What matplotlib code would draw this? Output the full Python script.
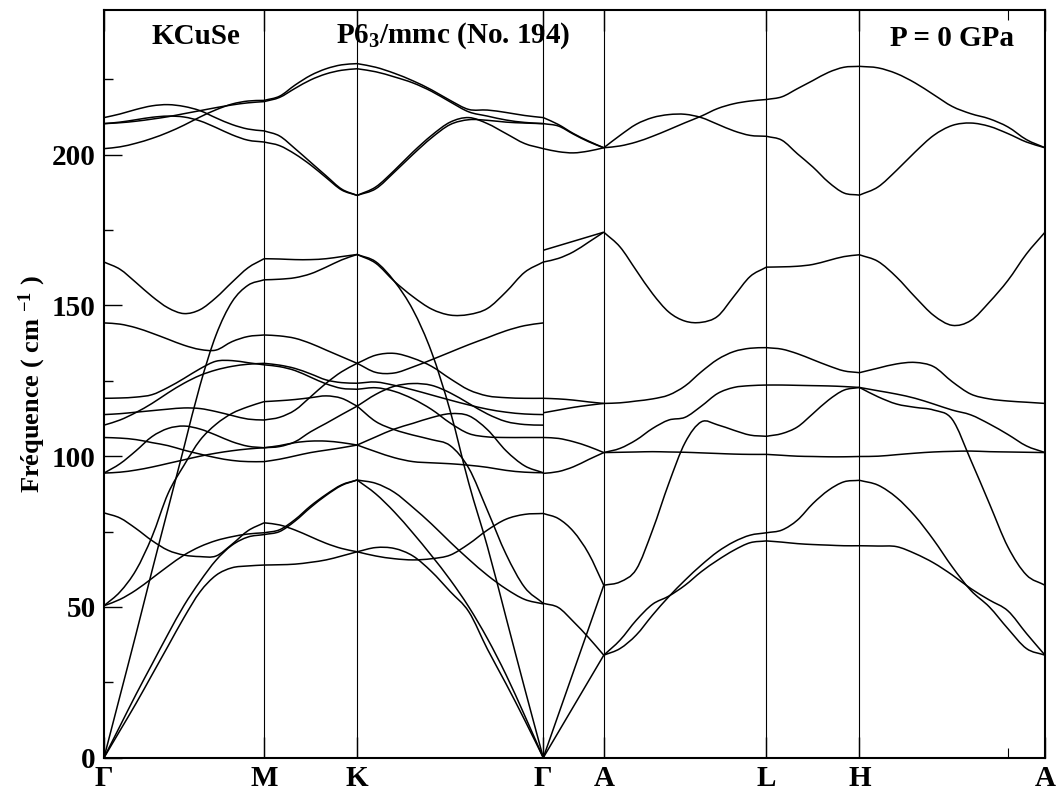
import numpy as np
import matplotlib
matplotlib.use("Agg")
import matplotlib.pyplot as plt
from matplotlib.path import Path
from matplotlib.patches import PathPatch

plt.rcParams.update({
    'font.family': 'serif',
    'font.serif': ['Liberation Serif', 'DejaVu Serif'],
    'font.weight': 'bold',
    'axes.labelweight': 'bold',
    'mathtext.fontset': 'custom',
    'mathtext.rm': 'Liberation Serif:bold',
    'mathtext.it': 'Liberation Serif:italic:bold',
    'mathtext.bf': 'Liberation Serif:bold',
    'mathtext.default': 'regular',
})

# high-symmetry path (fractional path length)
k_labels = ['Γ', 'M', 'K', 'Γ', 'A', 'L', 'H', 'A']
k_nodes = [0.0, 0.1701, 0.2690, 0.4668, 0.5311, 0.7039, 0.8028, 1.0]
k_minor = [0.961]

# phonon frequencies (cm-1), each band sampled at evenly spaced points along a segment
G_M = [
    [212.3, 213.5, 215.0, 216.2, 216.6, 216.0, 214.6, 212.2, 210.0, 208.5, 207.9],
    [210.3, 210.8, 211.6, 212.4, 212.8, 212.5, 211.2, 209.0, 206.6, 204.8, 204.2],
    [210.3, 210.6, 211.1, 211.8, 212.6, 213.6, 214.6, 215.6, 216.5, 217.2, 217.6],
    [202.0, 202.6, 203.8, 205.4, 207.4, 209.8, 212.5, 214.9, 216.8, 217.8, 218.0],
    [164.4, 162.0, 157.6, 153.0, 149.2, 147.3, 148.6, 152.6, 157.7, 162.5, 165.5],
    [0.0, 20.5, 41.0, 62.0, 82.5, 103.0, 123.5, 140.2, 151.2, 156.7, 158.5],
    [144.2, 143.8, 142.6, 140.8, 138.8, 136.8, 135.4, 135.2, 138.0, 139.7, 140.2],
    [119.2, 119.3, 119.6, 120.4, 122.8, 125.8, 129.0, 131.5, 131.7, 131.0, 130.3],
    [110.3, 112.0, 114.5, 117.5, 121.0, 124.2, 126.8, 128.6, 129.8, 130.5, 130.8],
    [113.8, 114.1, 114.6, 115.1, 115.6, 116.0, 115.8, 114.8, 113.5, 112.3, 112.0],
    [106.2, 106.0, 105.5, 104.5, 103.5, 102.0, 100.7, 99.5, 98.6, 98.2, 98.2],
    [94.4, 97.5, 101.8, 106.5, 109.2, 110.0, 109.0, 107.0, 104.8, 103.3, 102.8],
    [94.4, 94.7, 95.4, 96.4, 97.6, 98.8, 100.0, 101.0, 101.8, 102.4, 102.8],
    [81.2, 79.5, 76.0, 72.0, 68.8, 67.2, 66.7, 66.9, 70.8, 75.3, 77.9],
    [50.4, 52.5, 55.6, 59.5, 63.5, 67.2, 70.0, 72.0, 73.3, 74.2, 74.6],
    [50.4, 55.0, 62.2, 73.3, 87.6, 97.0, 105.3, 110.6, 114.2, 116.4, 118.1],
    [0.0, 9.0, 18.0, 27.5, 37.0, 46.5, 55.0, 60.5, 63.0, 63.6, 63.9],
    [0.0, 10.5, 21.0, 31.0, 41.0, 50.5, 58.5, 65.5, 70.5, 73.2, 74.0],
]

M_K = [
    [218.0, 219.4, 223.1, 226.3, 228.5, 229.8, 230.2],
    [217.6, 219.0, 222.0, 224.8, 226.8, 228.0, 228.5],
    [207.9, 206.2, 202.0, 197.5, 193.0, 188.6, 186.5],
    [204.2, 203.0, 200.2, 196.6, 192.4, 188.3, 186.5],
    [165.5, 165.4, 165.2, 165.2, 165.5, 166.2, 166.9],
    [158.5, 158.7, 159.2, 160.5, 162.7, 165.1, 166.9],
    [140.2, 139.9, 139.1, 137.4, 135.2, 133.0, 130.8],
    [130.8, 130.2, 129.1, 127.3, 125.3, 124.4, 124.2],
    [130.3, 129.7, 128.4, 126.2, 124.0, 122.5, 122.2],
    [118.1, 118.4, 118.8, 119.4, 120.0, 119.2, 116.6],
    [112.0, 112.9, 115.3, 119.7, 124.2, 128.0, 130.8],
    [102.8, 103.2, 104.8, 108.1, 110.9, 113.8, 116.6],
    [102.8, 103.5, 104.5, 105.0, 105.0, 104.5, 103.7],
    [98.2, 99.0, 100.1, 101.2, 102.0, 102.8, 103.7],
    [77.9, 77.2, 75.5, 73.3, 71.1, 69.4, 68.3],
    [74.6, 75.6, 79.0, 83.5, 87.3, 90.5, 92.1],
    [74.0, 75.0, 78.5, 83.0, 87.0, 90.3, 92.1],
    [63.9, 64.0, 64.2, 64.8, 65.6, 66.9, 68.3],
]

K_G = [
    [230.2, 229.0, 227.0, 224.5, 221.5, 218.0, 215.0, 214.8, 214.0, 213.0, 212.3],
    [228.5, 227.5, 225.8, 223.8, 221.0, 217.5, 214.2, 212.8, 211.5, 210.7, 210.3],
    [186.5, 189.3, 194.8, 200.9, 206.4, 210.8, 212.3, 210.3, 207.0, 203.7, 202.0],
    [186.5, 188.7, 194.2, 200.1, 205.6, 210.0, 211.6, 211.4, 210.8, 210.5, 210.3],
    [166.9, 164.0, 158.0, 152.9, 148.8, 146.8, 147.0, 149.0, 154.5, 161.0, 164.4],
    [166.9, 164.5, 158.0, 148.5, 134.5, 115.0, 91.0, 70.0, 46.5, 23.0, 0.0],
    [130.8, 127.8, 127.6, 129.6, 132.0, 134.5, 137.0, 139.3, 141.6, 143.3, 144.2],
    [130.8, 133.5, 134.1, 132.5, 129.8, 125.7, 122.0, 120.0, 119.4, 119.2, 119.2],
    [124.2, 124.6, 123.5, 122.0, 120.3, 118.6, 117.0, 115.6, 114.6, 114.0, 113.8],
    [122.2, 122.7, 121.5, 119.0, 115.5, 111.0, 107.5, 106.4, 106.2, 106.2, 106.2],
    [116.6, 120.5, 123.2, 124.1, 123.5, 121.0, 117.5, 114.0, 111.5, 110.5, 110.3],
    [116.6, 111.5, 108.8, 107.0, 105.5, 103.5, 96.0, 82.0, 67.5, 56.5, 51.2],
    [103.7, 106.4, 109.0, 110.9, 112.8, 114.1, 113.4, 108.8, 101.8, 96.8, 94.5],
    [103.7, 101.5, 99.5, 98.2, 97.8, 97.5, 97.0, 96.3, 95.3, 94.7, 94.5],
    [92.1, 91.0, 88.0, 83.0, 77.5, 71.5, 65.8, 60.5, 56.0, 52.5, 51.0],
    [92.1, 87.5, 81.5, 74.5, 67.0, 59.0, 50.0, 39.5, 27.5, 14.0, 0.0],
    [68.3, 69.7, 69.4, 66.9, 61.7, 55.1, 48.4, 36.0, 24.5, 12.5, 0.0],
    [68.3, 66.9, 66.0, 65.6, 66.0, 67.2, 70.9, 75.5, 79.1, 80.7, 81.0],
]

G_A = [
    [212.3, 210.0, 207.0, 204.5, 202.3],
    [210.3, 209.5, 206.8, 204.3, 202.3],
    [202.0, 201.0, 200.6, 201.2, 202.3],
    [168.3, 169.8, 171.3, 172.8, 174.3],
    [164.4, 165.6, 167.8, 171.0, 174.3],
    [119.2, 119.0, 118.6, 118.0, 117.5],
    [114.4, 115.3, 116.2, 116.9, 117.5],
    [106.2, 105.9, 104.8, 103.2, 101.2],
    [94.3, 94.9, 96.5, 98.9, 101.2],
    [81.0, 79.3, 75.0, 67.7, 57.2],
    [51.2, 49.8, 45.1, 39.8, 34.0],
    [0.0, 14.3, 28.6, 42.9, 57.2],
    [0.0, 8.5, 17.0, 25.5, 34.0],
]

A_L = [
    [202.3, 206.4, 210.1, 212.3, 213.3, 213.4, 212.3, 210.1, 207.9, 206.4, 206.1],
    [202.3, 202.9, 204.2, 206.1, 208.3, 210.6, 212.8, 215.3, 216.9, 217.8, 218.3],
    [174.3, 169.4, 161.6, 153.9, 147.8, 144.8, 144.4, 146.4, 153.0, 159.6, 162.7],
    [117.5, 117.7, 118.3, 119.0, 120.3, 123.3, 128.0, 132.1, 134.7, 135.8, 136.0],
    [101.2, 102.6, 105.4, 109.2, 112.0, 112.9, 116.6, 120.8, 122.8, 123.4, 123.6],
    [101.2, 101.3, 101.4, 101.5, 101.4, 101.3, 101.1, 100.9, 100.7, 100.6, 100.6],
    [57.2, 58.3, 62.5, 75.5, 91.0, 104.5, 111.4, 110.4, 108.6, 107.0, 106.6],
    [34.0, 39.0, 45.6, 50.9, 53.6, 57.2, 61.7, 65.5, 68.8, 71.3, 71.9],
    [34.0, 36.2, 40.7, 47.3, 53.4, 58.9, 63.9, 68.3, 71.6, 73.8, 74.6],
]

L_H = [
    [218.3, 219.2, 221.9, 224.6, 227.3, 229.0, 229.3],
    [206.1, 204.8, 200.3, 195.9, 190.9, 187.3, 186.6],
    [162.7, 162.8, 163.0, 163.6, 164.9, 166.2, 166.8],
    [136.0, 135.5, 134.0, 132.0, 130.0, 128.3, 127.7],
    [123.6, 123.6, 123.5, 123.4, 123.3, 123.1, 122.8],
    [106.6, 107.5, 109.7, 114.1, 118.6, 121.9, 122.8],
    [100.6, 100.3, 100.0, 99.9, 99.8, 99.8, 99.9],
    [71.9, 71.5, 71.0, 70.7, 70.5, 70.3, 70.3],
    [74.6, 75.5, 78.8, 84.3, 88.7, 91.5, 92.0],
]

H_A = [
    [229.3, 228.8, 226.9, 223.8, 219.9, 216.0, 213.6, 211.9, 209.2, 205.0, 202.3],
    [186.6, 189.3, 194.8, 200.9, 206.4, 209.7, 210.5, 209.4, 207.0, 204.2, 202.3],
    [166.8, 164.6, 159.4, 152.8, 146.7, 143.4, 145.0, 151.1, 158.3, 167.1, 174.3],
    [127.7, 129.2, 130.6, 131.1, 129.7, 124.7, 120.6, 119.0, 118.3, 117.9, 117.5],
    [122.8, 121.7, 120.6, 119.2, 117.3, 115.3, 113.7, 110.7, 107.2, 103.4, 101.2],
    [122.8, 119.7, 117.3, 116.2, 115.3, 112.2, 98.7, 84.3, 69.9, 60.6, 57.2],
    [99.9, 100.0, 100.5, 101.0, 101.4, 101.6, 101.7, 101.5, 101.4, 101.3, 101.2],
    [92.0, 90.4, 86.3, 80.1, 72.2, 63.3, 55.5, 50.0, 42.8, 36.2, 34.0],
    [70.3, 70.2, 70.0, 67.7, 64.6, 60.6, 56.1, 52.3, 48.7, 41.2, 34.0],
]

segments = [G_M, M_K, K_G, G_A, A_L, L_H, H_A]


def smooth_path(x, y):
    # Catmull-Rom through the read points, drawn as cubic Bezier pieces
    p = np.column_stack([x, y])
    e = np.vstack([2 * p[0] - p[1], p, 2 * p[-1] - p[-2]])
    verts, codes = [p[0]], [Path.MOVETO]
    for i in range(1, len(e) - 2):
        verts += [e[i] + (e[i + 1] - e[i - 1]) / 6, e[i + 1] - (e[i + 2] - e[i]) / 6, e[i + 1]]
        codes += [Path.CURVE4] * 3
    return Path(verts, codes)


fig = plt.figure(figsize=(10.59, 7.91), dpi=100)
ax = fig.add_axes([0.0982, 0.0421, 0.8886, 0.9453])

for i, seg in enumerate(segments):
    for band in seg:
        x = np.linspace(k_nodes[i], k_nodes[i + 1], len(band))
        ax.add_patch(PathPatch(smooth_path(x, band), facecolor='none',
                               edgecolor='black', lw=1.1))

for k in k_nodes[1:-1]:
    ax.axvline(k, color='black', lw=0.8)

ax.set_xlim(0, 1)
ax.set_ylim(0, 248)
ax.set_xticks(k_nodes)
ax.set_xticklabels(k_labels)
ax.set_xticks(k_minor, minor=True)
ax.set_yticks([0, 50, 100, 150, 200])
ax.set_yticks([25, 75, 125, 175, 225], minor=True)

ax.tick_params(axis='y', which='major', direction='in', length=13, width=1.0,
               labelsize=21, pad=6)
ax.tick_params(axis='y', which='minor', direction='in', length=6.5, width=1.0)
ax.tick_params(axis='x', which='major', direction='in', length=15, width=1.0,
               labelsize=21, pad=5, top=True)
ax.tick_params(axis='x', which='minor', direction='in', length=7, width=0.8, top=True)

for s in ax.spines.values():
    s.set_linewidth(1.5)

ax.set_ylabel('Fréquence ( cm $^{-1}$ )', fontsize=19, fontweight='bold')
ax.yaxis.set_label_coords(-0.06, 0.5)

ax.text(0.098, 0.965, 'KCuSe', transform=ax.transAxes, fontsize=21,
        ha='center', va='center')
ax.text(0.371, 0.965, 'P6$_3$/mmc (No. 194)', transform=ax.transAxes, fontsize=21,
        ha='center', va='center')
ax.text(0.901, 0.962, 'P = 0 GPa', transform=ax.transAxes, fontsize=21,
        ha='center', va='center')

fig.savefig('out.png', dpi=100)
